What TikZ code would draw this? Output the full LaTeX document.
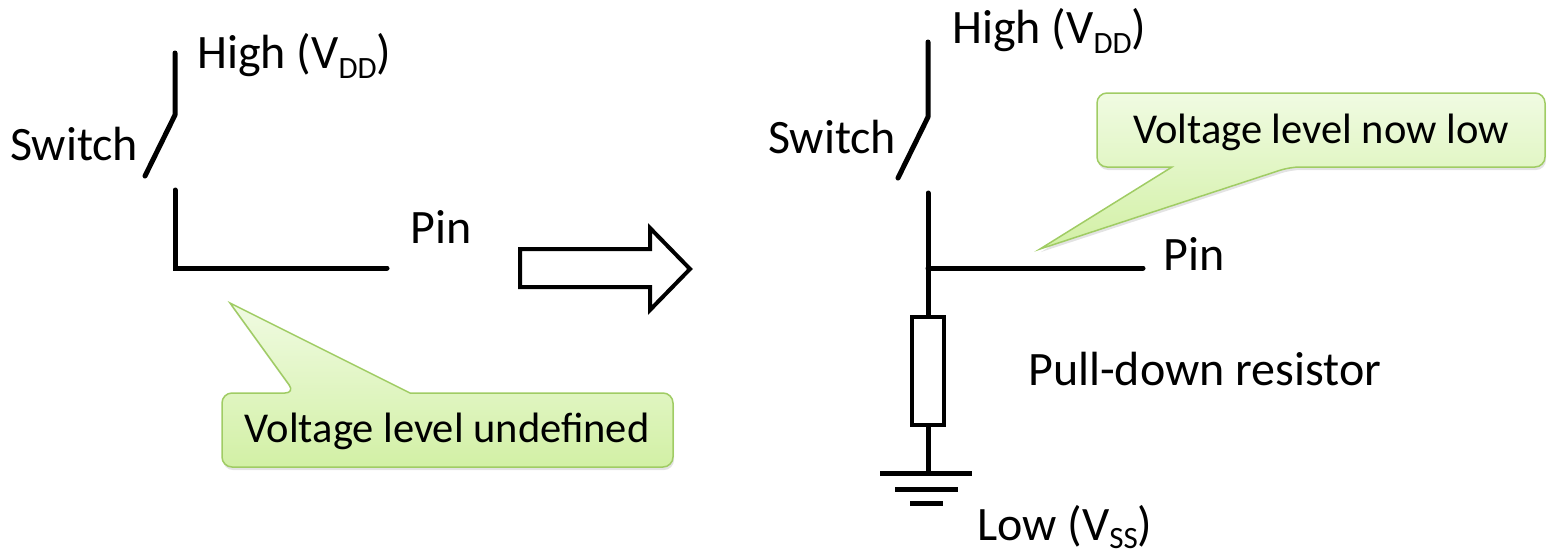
\documentclass[tikz,border=0pt]{standalone}
\usepackage{fontspec}
\setmainfont{Carlito}
\usetikzlibrary{shadows}
\definecolor{cgreenA}{RGB}{240,251,226}
\definecolor{cgreenB}{RGB}{210,240,165}
\definecolor{cborder}{RGB}{160,204,100}
\newcommand{\mysub}[1]{\raisebox{-10pt}{\fontsize{31}{31}\selectfont #1}}
\newcommand{\mysubb}[1]{\raisebox{-8pt}{\fontsize{31}{31}\selectfont #1}}
\tikzset{
  wire/.style={line width=5pt, line cap=round, line join=round},
  cornerwire/.style={line width=5pt, line cap=round, line join=miter},
  lbl/.style={anchor=base west, inner sep=0pt, font=\fontsize{48}{56}\selectfont},
  ctext/.style={anchor=base, inner sep=0pt, font=\fontsize{42.5}{50}\selectfont},
  calloutbox/.style={draw=cborder, line width=1.5pt, top color=cgreenA, bottom color=cgreenB,
    drop shadow={opacity=0.22, shadow xshift=1pt, shadow yshift=-3pt}},
  bigarrow/.style={draw=black, line width=4pt, fill=white, line join=miter},
  resbox/.style={draw, line width=4.5pt, minimum width=32pt, minimum height=108pt, inner sep=0pt},
  gnd/.style={line width=5pt}
}
\begin{document}
\begin{tikzpicture}[x=1pt,y=-1pt]
\useasboundingbox (0,0) rectangle (1550,555);

% ---------- left circuit ----------
\coordinate (L1) at (175,53);
\coordinate (L2) at (175,115);
\coordinate (L3) at (145,176);
\coordinate (L4) at (175,190);
\coordinate (L5) at (175,268);
\coordinate (L6) at (387,268);
\draw[wire] (L1) -- (L2) -- (L3);
\draw[cornerwire] (L4) -- (L5) -- (L6);
\node[lbl] (lhigh) at (197,68) {High (V\mysub{DD})};
\node[lbl] (lswitch) at (10,160) {Switch};
\node[lbl] (lpin) at (410,243) {Pin};

% callout 1
\path[calloutbox] (222,393) [rounded corners=10pt] -- (295,393) [sharp corners] -- (230,303) -- (410,393) [rounded corners=10pt] -- (673,393) -- (673,467) -- (222,467) -- cycle;
\node[ctext] (c1) at (447,442) {Voltage level undefined};

% big arrow
\draw[bigarrow] (520,249) -- (650,249) -- (650,228) -- (690,269) -- (650,310) -- (650,287) -- (520,287) -- cycle;

% ---------- right circuit ----------
\coordinate (R1) at (928,42);
\coordinate (R2) at (928,117);
\coordinate (R3) at (898,178);
\coordinate (R4) at (928,193);
\coordinate (RJ) at (928,268);
\coordinate (R6) at (1143,268);
\coordinate (G1) at (928,473);
\node[resbox] (res) at (928,371) {};
\draw[wire] (R1) -- (R2) -- (R3);
\draw[wire] (R4) -- (RJ) -- (res.north);
\draw[wire] (RJ) -- (R6);
\draw[wire] (res.south) -- (G1);
\draw[gnd] (880,473) -- (972,473);
\draw[gnd] (895,489) -- (958,489);
\draw[gnd] (910,503) -- (943,503);
\node[lbl] (rhigh) at (952,43) {High (V\mysub{DD})};
\node[lbl] (rswitch) at (768,153) {Switch};
\node[lbl] (rpin) at (1163,270) {Pin};
\node[lbl] (rres) at (1028,385) {Pull-down resistor};
\node[lbl] (rlow) at (977,540) {Low (V\mysubb{SS})};

% callout 2
\path[calloutbox] (1097,130) [rounded corners=10pt] -- (1097,93) -- (1545,93) -- (1545,167) -- (1290,167) [sharp corners] -- (1040,249) -- (1172,167) [rounded corners=10pt] -- (1097,167) -- cycle;
\node[ctext] (c2) at (1321,143) {Voltage level now low};
\end{tikzpicture}
\end{document}
